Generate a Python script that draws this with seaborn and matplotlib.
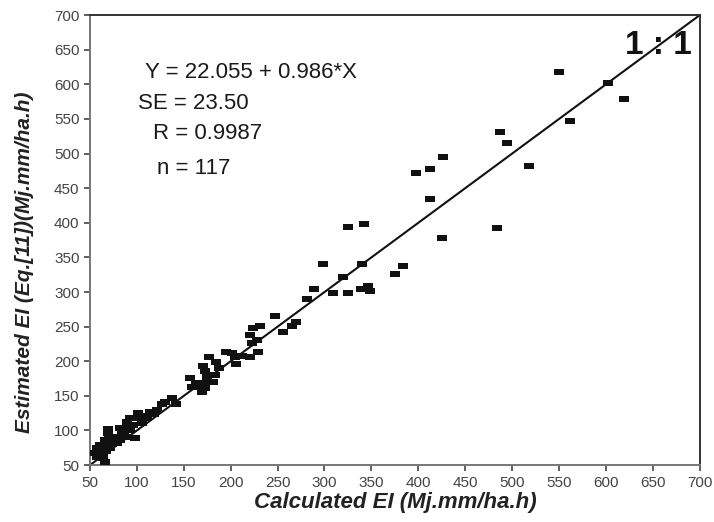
import matplotlib
matplotlib.use("Agg")
import matplotlib.pyplot as plt
import seaborn as sns
import numpy as np
import pandas as pd

# Calculated EI vs estimated EI (Eq. 11)
calc_ei = [
    562, 487, 495, 426, 398, 412, 518, 412, 484, 425, 325, 342,
    298, 340, 320, 289, 281, 309, 325, 339, 346, 348, 375, 384,
    550, 602, 619,
    224, 231, 221, 228, 223, 229, 221, 247, 256, 265, 270, 195,
    201, 205, 206, 177, 184, 170, 173, 175, 183, 181, 170, 169,
    167, 157, 159, 173,
    142, 137, 130, 127, 121, 114, 111, 106, 103, 101, 98, 93,
    90, 89, 93, 89, 98, 84, 82, 79, 82, 69, 71, 69, 66, 63, 57,
    64, 55, 64, 66, 64, 71, 69, 53, 58, 61, 70,
    60, 62, 67, 74, 77, 86, 96, 108, 118, 163, 188, 212,
]
est_ei = [
    547, 531, 515, 495, 472, 478, 482, 434, 392, 378, 394, 398,
    340, 340, 322, 304, 290, 298, 298, 304, 309, 301, 326, 338,
    618, 602, 579,
    248, 251, 238, 231, 226, 213, 206, 265, 242, 251, 257, 213,
    212, 206, 196, 206, 199, 193, 186, 177, 180, 170, 168, 155,
    163, 176, 163, 161,
    138, 147, 141, 138, 129, 127, 118, 111, 121, 125, 118, 118,
    112, 105, 101, 90, 89, 96, 86, 82, 103, 102, 79, 83, 86, 76, 75,
    72, 67, 60, 54, 64, 75, 96, 67, 62, 79, 88,
    70, 66, 70, 80, 90, 95, 108, 118, 124, 168, 190, 208,
]
ticks = list(range(50, 701, 50))
axis_lim = [50, 700]

df = pd.DataFrame({"calc": calc_ei, "est": est_ei})

sns.set_style("ticks")
plt.rcParams["font.family"] = ["Liberation Sans", "DejaVu Sans"]

fig = plt.figure(figsize=(7.14, 5.22), dpi=100)
ax = fig.add_axes([0.126, 0.109, 0.854, 0.862])

rect = [(-1, -0.62), (1, -0.62), (1, 0.62), (-1, 0.62)]
sns.scatterplot(data=df, x="calc", y="est", ax=ax, marker=rect, s=44,
                color="#111111", edgecolor="#111111", linewidth=0, zorder=3)
ax.axline((axis_lim[0], axis_lim[0]), slope=1, color="#111111", lw=1.5, zorder=2)

ax.set_xlim(axis_lim)
ax.set_ylim(axis_lim)
ax.set_xticks(ticks)
ax.set_yticks(ticks)
ax.tick_params(labelsize=11, colors="#444444", length=4, width=1.2)
for s in ax.spines.values():
    s.set_visible(True)
    s.set_color("#333333")
    s.set_linewidth(1.4)
ax.spines["left"].set_color("#777777")
ax.spines["bottom"].set_color("#777777")

ax.set_xlabel("Calculated EI (Mj.mm/ha.h)", fontsize=16, fontweight="bold",
              fontstyle="italic", color="#222222")
ax.set_ylabel("Estimated EI (Eq.[11])(Mj.mm/ha.h)", fontsize=15, fontweight="bold",
              fontstyle="italic", color="#222222")
ax.xaxis.set_label_coords(0.5, -0.06)
ax.yaxis.set_label_coords(-0.092, 0.45)

tkw = dict(transform=ax.transAxes, fontsize=16, color="#1a1a1a", va="center", ha="left")
ax.text(0.090, 0.873, "Y = 22.055 + 0.986*X", **tkw)
ax.text(0.079, 0.804, "SE = 23.50", **tkw)
ax.text(0.103, 0.738, "R = 0.9987", **tkw)
ax.text(0.110, 0.660, "n = 117", **tkw)
ax.text(0.987, 0.933, "1 : 1", transform=ax.transAxes, fontsize=24,
        fontweight="bold", color="#111111", va="center", ha="right")

fig.savefig("out.png", dpi=100)
